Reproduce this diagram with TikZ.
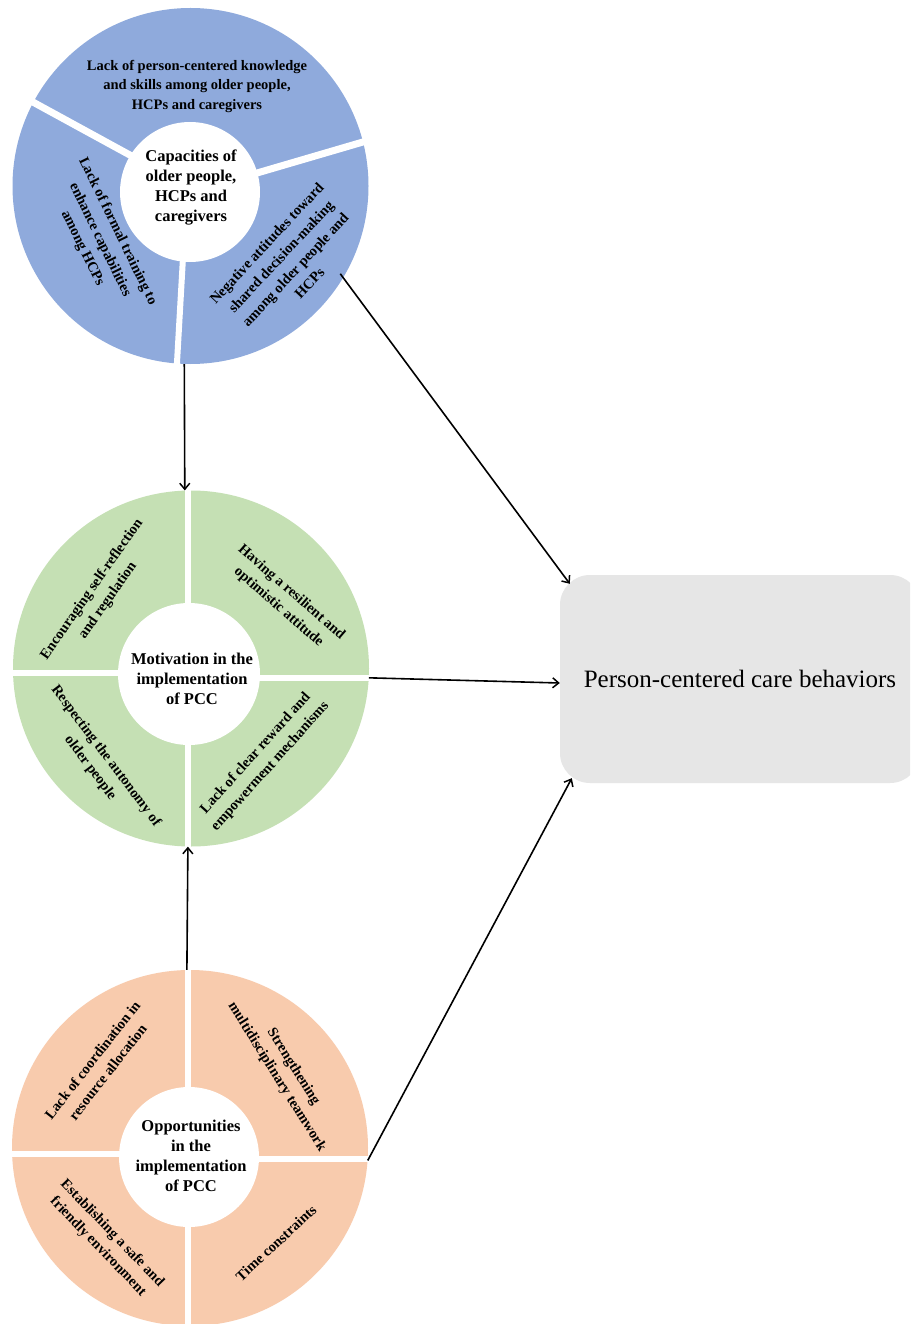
\documentclass[tikz,border=0pt]{standalone}
\usepackage{fontspec}
\setmainfont{Liberation Serif}
\usetikzlibrary{arrows.meta,calc}
\definecolor{cblue}{HTML}{8FAADC}
\definecolor{cgreen}{HTML}{C5E0B4}
\definecolor{corange}{HTML}{F8CBAD}
\definecolor{cgray}{HTML}{E6E6E6}
\begin{document}
\begin{tikzpicture}[x=1pt,y=-1pt,
  ring/.style={circle, inner sep=0pt, minimum size=356pt},
  hub/.style={circle, fill=white, inner sep=0pt, minimum size=#1},
  gap/.style={white, line width=#1},
  seg/.style={font=\fontsize{14.5}{19.5}\selectfont\bfseries, align=center, inner sep=0pt},
  hubtext/.style={font=\fontsize{16.5}{20}\selectfont\bfseries, align=center, inner sep=0pt},
  link/.style={-{Straight Barb[length=6pt,width=10pt,line width=1.5pt]}, line width=1.6pt}
]
\fill[white] (0,0) rectangle (910,1324);
\useasboundingbox (0,0) rectangle (910,1324);
\clip (0,0) rectangle (910,1324);

% ---------- Capacities (blue) ----------
\node[ring, fill=cblue] (cap) at (190.5,186) {};
\draw[gap=7pt] (150,166) -- (20,95);
\draw[gap=7pt] (240,178) -- (380,137);
\draw[gap=6pt] (184,240) -- (176,380);
\node[hub=140pt] (caphub) at (190,192) {};
\node[hubtext] (captxt) at (191,188) {Capacities of\\older people,\\HCPs and\\caregivers};
\node[seg] (cap1) at (197,86) {Lack of person-centered knowledge\\and skills among older people,\\HCPs and caregivers};
\node[seg, rotate=-64] (cap2) at (100,240) {Lack of formal training to\\enhance capabilities\\among HCPs};
\node[seg, rotate=47] (cap3) at (288,263) {Negative attitudes toward\\shared decision-making\\among older people and\\HCPs};

% ---------- Motivation (green) ----------
\node[ring, fill=cgreen] (mot) at (191,668.5) {};
\draw[gap=5.5pt] (188,480) -- (188,860);
\draw[gap=5.5pt] (0,673) -- (120,673);
\draw[gap=5.5pt] (255,678) -- (380,678);
\node[hub=142pt] (mothub) at (189,674) {};
\node[hubtext] (mottxt) at (192,679) {Motivation in the\\implementation\\of PCC};
\node[seg, rotate=55] (mot1) at (100,595) {Encouraging self-reflection\\and regulation};
\node[seg, rotate=-41] (mot2) at (285,600) {Having a resilient and\\optimistic attitude};
\node[seg, rotate=-53] (mot3) at (98,762) {Respecting the autonomy of\\older people};
\node[seg, rotate=48] (mot4) at (263,760) {Lack of clear reward and\\empowerment mechanisms};

% ---------- Opportunities (orange) ----------
\node[ring, fill=corange] (opp) at (190,1148) {};
\draw[gap=5.5pt] (188,960) -- (188,1330);
\draw[gap=5.5pt] (0,1154) -- (120,1154);
\draw[gap=5.5pt] (255,1159) -- (380,1159);
\node[hub=140pt] (opphub) at (189,1157) {};
\node[hubtext] (opptxt) at (191,1156) {Opportunities\\in the\\implementation\\of PCC};
\node[seg, rotate=52] (opp1) at (100,1066) {Lack of coordination in\\resource allocation};
\node[seg, rotate=-58] (opp2) at (285,1072) {Strengthening\\multidisciplinary teamwork};
\node[seg, rotate=-46] (opp3) at (105,1240) {Establishing a safe and\\friendly environment};
\node[seg, rotate=43] (opp4) at (276,1243) {Time constraints};

% ---------- Outcome box ----------
\node[fill=cgray, rounded corners=30pt, minimum width=360pt, minimum height=208pt,
      font=\fontsize{25}{30}\selectfont] (box) at (740,679) {Person-centered care behaviors};

% ---------- Connectors ----------
\draw[link] (cap.-92) -- (mot.92);
\draw[link, shorten <=-5pt] (cap.-31.5) -- ($(box.north west)+(10,9)$);
\draw[link] (mot.-3) -- ($(box.west)+(0,4)$);
\draw[link] (opp.91) -- (mot.-91);
\draw[link] (opp.-4) -- ($(box.south west)+(12,-5)$);
\end{tikzpicture}
\end{document}
